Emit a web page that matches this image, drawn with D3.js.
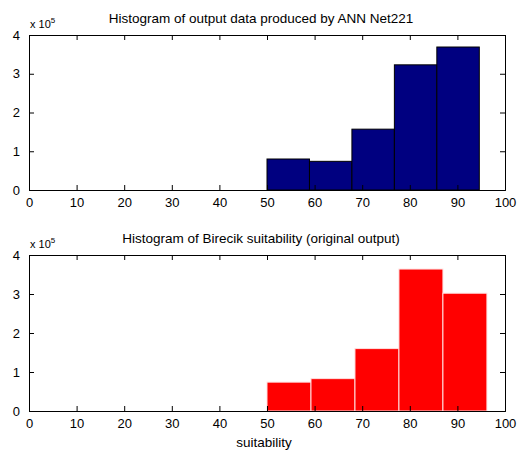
<!DOCTYPE html>
<html>
<head>
<meta charset="utf-8">
<script src="https://cdn.jsdelivr.net/npm/d3@7"></script>
<style>
  body { margin: 0; background: #fff; }
  svg { font-family: "Liberation Sans", Arial, sans-serif; }
</style>
</head>
<body>
<div id="chart"></div>
<script>
// tick labels
const xTicks = [0, 10, 20, 30, 40, 50, 60, 70, 80, 90, 100];
const yTicks = [0, 1, 2, 3, 4];

// ANN Net221 histogram (bin edges + counts)
const annEdges = [50, 58.92, 67.84, 76.76, 85.68, 94.6];
const annCounts = [80000, 74000, 157000, 323000, 369000];

// Birecik original output histogram
const birEdges = [50, 59.24, 68.48, 77.72, 86.96, 96.2];
const birCounts = [74000, 83000, 160000, 364000, 302000];

const titles = [
    "Histogram of output data produced by ANN Net221",
    "Histogram of Birecik suitability (original output)"
];

var width = 529;
var height = 452;

var svg = d3.select("#chart")
    .append("svg")
    .attr("width", width)
    .attr("height", height);

function crtajHist(edges, counts, top, bottom, fill, stroke, title, xlabel) {
    var x = d3.scaleLinear().domain([0, 100]).range([29, 505]);
    var y = d3.scaleLinear().domain([0, 400000]).range([bottom, top]);

    var bins = counts.map((c, i) => ({ x0: edges[i], x1: edges[i + 1], count: c }));

    var g = svg.append("g");

    g.selectAll("rect.bar")
        .data(bins)
        .enter()
        .append("rect")
        .attr("class", "bar")
        .attr("x", d => x(d.x0))
        .attr("y", d => y(d.count))
        .attr("width", d => x(d.x1) - x(d.x0))
        .attr("height", d => y(0) - y(d.count))
        .attr("fill", fill)
        .attr("stroke", stroke)
        .attr("stroke-width", 1);

    // ticks inward, MATLAB style
    var axB = d3.axisBottom(x).tickValues(xTicks).tickSize(-5).tickPadding(8);
    var axT = d3.axisTop(x).tickValues(xTicks).tickSize(-5).tickFormat("");
    var axL = d3.axisLeft(y).tickValues(yTicks.map(v => v * 1e5)).tickSize(-5).tickPadding(9)
        .tickFormat(d => d / 1e5);
    var axR = d3.axisRight(y).tickValues(yTicks.map(v => v * 1e5)).tickSize(-5).tickFormat("");

    [[axB, `translate(0,${bottom})`], [axT, `translate(0,${top})`],
     [axL, "translate(29,0)"], [axR, "translate(505,0)"]].forEach(([ax, tr]) => {
        var a = g.append("g").attr("transform", tr).call(ax);
        a.select(".domain").attr("stroke", "#000");
        a.selectAll(".tick line").attr("stroke", "#000");
        a.selectAll("text").attr("fill", "#000").style("font-size", "13px");
    });

    // exponent label
    var ex = g.append("text")
        .attr("x", 30)
        .attr("y", top - 7)
        .style("font-size", "11px")
        .text("x 10");
    ex.append("tspan")
        .attr("dy", -5)
        .style("font-size", "8px")
        .text("5");

    g.append("text")
        .attr("x", 261)
        .attr("y", top - 12)
        .attr("text-anchor", "middle")
        .style("font-size", "13.5px")
        .text(title);

    if (xlabel) {
        g.append("text")
            .attr("x", 264)
            .attr("y", bottom + 36)
            .attr("text-anchor", "middle")
            .style("font-size", "13.5px")
            .text(xlabel);
    }
}

crtajHist(annEdges, annCounts, 35, 190, "#000080", "#000", titles[0], null);
crtajHist(birEdges, birCounts, 255, 411, "#ff0000", "#ffe0e0", titles[1], "suitability");
</script>
</body>
</html>
